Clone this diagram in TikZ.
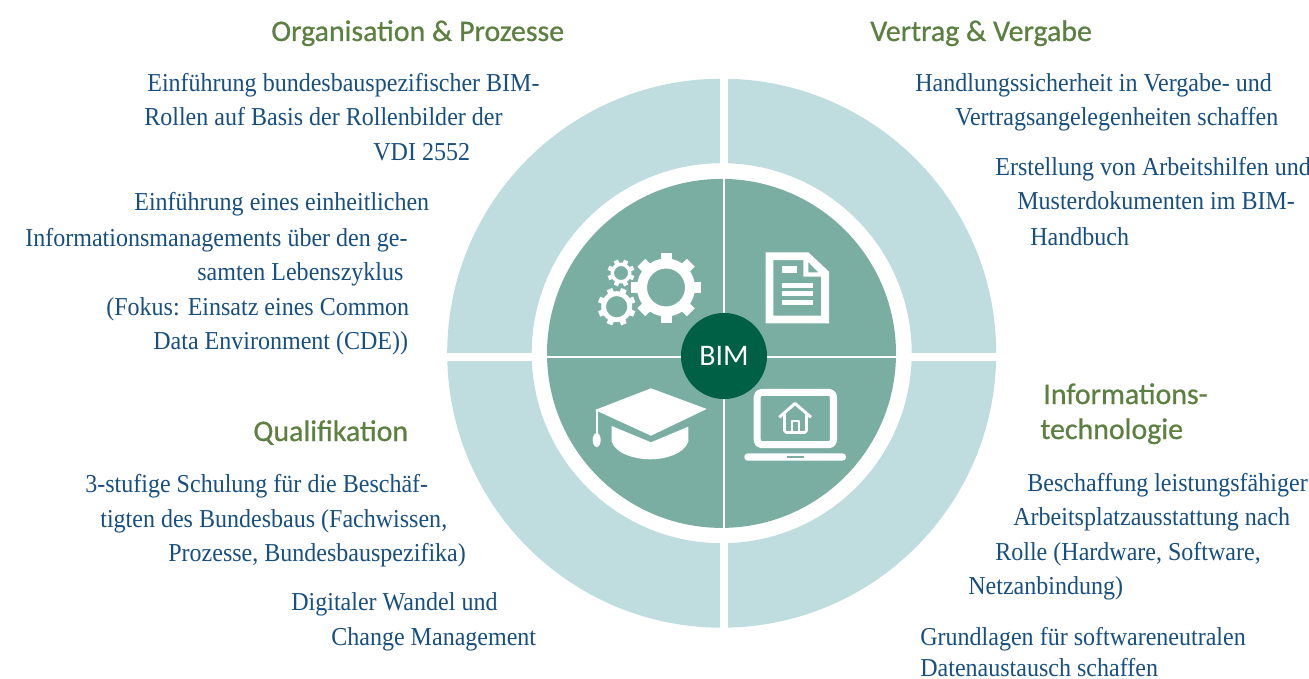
\documentclass[tikz,border=0pt]{standalone}
\usepackage{fontspec}
\setmainfont[FakeStretch=.93]{Liberation Serif}
\newfontfamily\headfont[FakeBold=.7]{Carlito}
\newfontfamily\bimfont{Carlito}
\usepackage{tikz}
\definecolor{ringc}{HTML}{BFDCDF}
\definecolor{discc}{HTML}{7BAEA3}
\definecolor{bimc}{HTML}{006045}
\definecolor{headc}{HTML}{5B8040}
\definecolor{txtc}{HTML}{174F80}
\tikzset{txt/.style={anchor=base west,inner sep=0pt,text=txtc,font=\fontsize{14.7}{14.7}\selectfont}}
\tikzset{head/.style={anchor=base west,inner sep=0pt,text=headc,font=\headfont\fontsize{17}{17}\selectfont}}
\tikzset{bar/.style={white,line width=4.4pt}}
\tikzset{thin bar/.style={white,line width=1.2pt}}
\tikzset{icon/.style={white,line width=4pt}}
% one cog wheel: x, y, hole, body, tip, tooth width, turn
\newcommand{\gearicon}[7]{
  \begin{scope}[shift={(#1,#2)}]
    \fill[white,even odd rule](0,0) circle (#4) (0,0) circle (#3);
    \foreach \a in {0,45,...,315}
      \fill[white,rotate=\a+#7](#4-1,-#6/2) rectangle (#5,#6/2);
  \end{scope}
}

\begin{document}
\begin{tikzpicture}[line join=round, x=.02cm, y=-.02cm]
  \useasboundingbox (0,0) rectangle (1309,679);
  % ring and disc
  \fill[ringc,even odd rule](721.7,353.2) circle (274.5) (721.7,353.2) circle (190);
  \draw[bar](724,70)--(724,170);
  \draw[bar](724,535)--(724,640);
  \draw[bar](440,357)--(540,357);
  \draw[bar](905,357)--(1005,357);
  \fill[discc](721.5,353.4) circle (174.5);
  \draw[thin bar](724,175)--(724,535);
  \draw[thin bar](540,356.7)--(900,356.7);
  \node[circle,fill=bimc,minimum size=1.72cm,inner sep=0pt,text=white,font=\bimfont\fontsize{17}{17}\selectfont] (bim) at (724,356) {BIM};
  % gears
  \gearicon{666}{287.5}{19}{29}{35}{11}{0}
  \gearicon{621}{273}{7}{10.5}{13.5}{4.5}{22.5}
  \gearicon{616.7}{306.7}{10.7}{15.5}{19}{6}{22.5}
  % document
  \fill[white,even odd rule](765.7,252.3)--(808.3,252.3)--(829,271.7)--(829,323.3)--(765.7,323.3)--cycle
    (773.3,260)--(803.3,260)--(803.3,276.7)--(821,276.7)--(821,315.7)--(773.3,315.7)--cycle
    (808.3,262)--(808.3,272.3)--(818.3,272.3)--cycle;
  \fill[white](781.7,266)rectangle(797.3,273.3);
  \fill[white](781.7,282.7)rectangle(813,287.7);
  \fill[white](781.7,291)rectangle(813,296);
  \fill[white](781.7,300)rectangle(813,305);
  % cap
  \fill[white](595,410)--(651,388.3)--(706.7,409)--(651,435.7)--cycle;
  \fill[white](611.7,426)--(651,442.3)--(688.3,426.7)--(688.3,441.7)..controls(684,454)and(665,459.3)..(651,459.3)..controls(635,459.3)and(616,454)..(611.7,441.7)--cycle;
  \draw[white,line width=.9pt](597,410)--(597,435);
  \fill[white](596.7,440) ellipse (4 and 7);
  % laptop
  \draw[icon,rounded corners=2.5pt](757.2,392.4) rectangle (833.5,444.7);
  \fill[white,rounded corners=2pt](744.3,453.3) rectangle (846,460.7);
  \fill[discc](786.7,456) rectangle (804,457.7);
  \draw[white,line width=1.7pt](779.3,417.3)--(795,403.5)--(811,417.3);
  \draw[white,line width=1.5pt,rounded corners=1pt](784.5,414)--(784.5,432.5)--(806.5,432.5)--(806.5,414);
  \draw[white,line width=1.2pt](791.7,432)--(791.7,421)--(799,421)--(799,432);
  % headings
  \foreach \x/\y/\s [count=\i] in {271/41/{Organisation \& Prozesse},870/41/{Vertrag \& Vergabe},253/441/{Qualifikation},1043/404/{Informations-},1040/439/{technologie}}
    \node[head] (head\i) at (\x,\y) {\s};
  % texts
  \foreach \x/\y/\s [count=\i] in {
    147/92/{Einführung bundesbauspezifischer BIM-},
    144/126/{Rollen auf Basis der Rollenbilder der},
    373/160/{VDI 2552},
    134/211/{Einführung eines einheitlichen},
    25/246/{Informationsmanagements über den ge-},
    197/280/{samten Lebenszyklus},
    106/315/{(Fokus: Einsatz eines Common},
    153/349/{Data Environment (CDE))},
    85/492/{3-stufige Schulung für die Beschäf-},
    100/527/{tigten des Bundesbaus (Fachwissen,},
    168/561/{Prozesse, Bundesbauspezifika)},
    291/610/{Digitaler Wandel und},
    331/645/{Change Management},
    915/92/{Handlungssicherheit in Vergabe- und},
    955/126/{Vertragsangelegenheiten schaffen},
    995/175/{Erstellung von Arbeitshilfen und},
    1017/210/{Musterdokumenten im BIM-},
    1030/245/{Handbuch},
    1027/491/{Beschaffung leistungsfähiger},
    1013/525/{Arbeitsplatzausstattung nach},
    995/560/{Rolle (Hardware, Software,},
    968/594/{Netzanbindung)},
    920/645/{Grundlagen für softwareneutralen},
    920/676.5/{Datenaustausch schaffen}}
    \node[txt] (txt\i) at (\x,\y) {\s};
\end{tikzpicture}
\end{document}
